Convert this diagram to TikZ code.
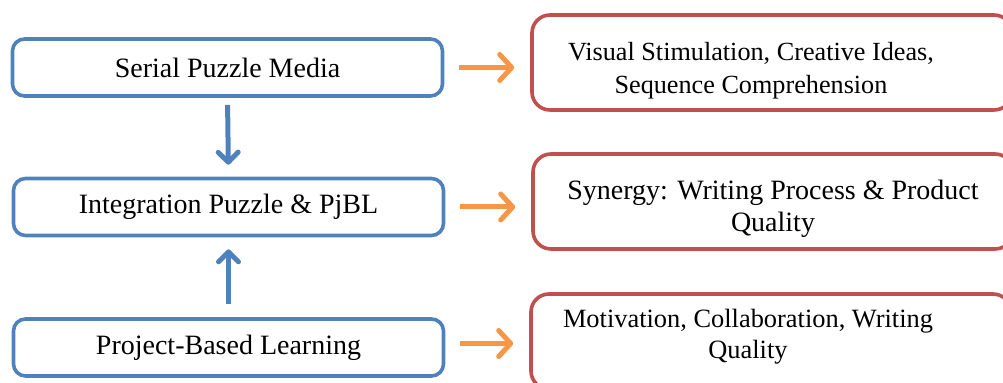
\documentclass[tikz,border=0pt]{standalone}
\usepackage{fontspec}
\setmainfont{Liberation Serif}
\usetikzlibrary{arrows.meta}

\definecolor{boxblue}{RGB}{79,129,189}
\definecolor{boxred}{RGB}{192,80,77}
\definecolor{arrorange}{RGB}{247,150,70}

\begin{document}
\begin{tikzpicture}[x=0.5pt,y=-0.5pt,
    every node/.style={font=\fontsize{14}{16}\selectfont},
    srcbox/.style={draw=boxblue,line width=1.8pt,rounded corners=6pt,
      minimum width=215pt,minimum height=28.5pt,inner sep=0pt},
    outbox/.style={draw=boxred,line width=1.8pt,rounded corners=9pt,
      minimum width=240pt,minimum height=47.5pt,inner sep=0pt},
    outtext/.style={align=center,inner sep=0pt},
    uparr/.style={draw=boxblue,line width=2.5pt,
      -{Straight Barb[length=5pt,width=10pt,round]}},
    sidearr/.style={draw=arrorange,line width=2.5pt,
      -{Straight Barb[length=6pt,width=13pt,round]}}]
  \clip (0,0) rectangle (1003,383);
  %\draw[thin,gray!40] (0,0) grid[step=50] (1003,383);

  % left column
  \node[srcbox] (puzzle) at (227.5,67.5) {Serial Puzzle Media};
  \node[srcbox] (integ) at (228.5,207) {Integration Puzzle \& PjBL};
  \node[srcbox] (pjbl) at (228.5,347.5) {Project-Based Learning};

  % right column
  \node[outbox] (visual) at (772,62.5) {};
  \node[outbox] (synergy) at (773,201.5) {};
  \node[outbox] (motiv) at (771,341.5) {};
  \node[outtext,font=\fontsize{13.1}{16.5}\selectfont] (visualtxt) at (751,71)
    {Visual Stimulation, Creative Ideas,\\Sequence Comprehension};
  \node[outtext,font=\fontsize{14}{16}\selectfont] (synergytxt) at (773,209)
    {Synergy: Writing Process \& Product\\Quality};
  \node[outtext,font=\fontsize{13.2}{15.5}\selectfont] (motivtxt) at (748,337)
    {Motivation, Collaboration, Writing\\Quality};

  \draw[uparr,shorten <=3.5pt,shorten >=6pt] (puzzle.south) -- (integ.north);
  \draw[uparr,shorten <=6.5pt,shorten >=6pt] (pjbl.north) -- (integ.south);

  \draw[sidearr,shorten <=7.5pt,shorten >=8pt] (puzzle.east) -- (puzzle.east -| visual.west);
  \draw[sidearr,shorten <=7.5pt,shorten >=8pt] (integ.east) -- (integ.east -| synergy.west);
  \draw[sidearr,shorten <=7.5pt,shorten >=8pt] ([yshift=2pt]pjbl.east) -- ([yshift=2pt]pjbl.east -| motiv.west);
\end{tikzpicture}
\end{document}
